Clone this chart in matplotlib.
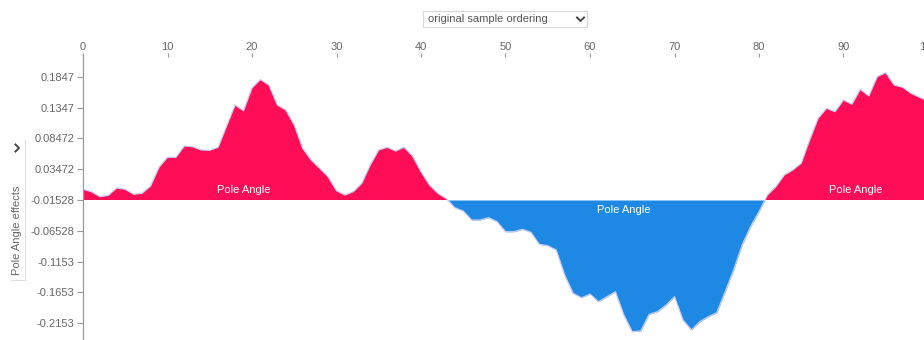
import numpy as np
import matplotlib
matplotlib.use("Agg")
import matplotlib.pyplot as plt
from matplotlib.patches import Rectangle
from matplotlib.lines import Line2D

plt.rcParams['font.family'] = ['Liberation Sans', 'DejaVu Sans']

# --- data -----------------------------------------------------------------
feature_name = "Pole Angle"
base_value = -0.01528
sample_index = list(range(101))
pole_angle_effects = [
    0.0174, 0.0135, 0.0054, 0.0076, 0.0195, 0.0174, 0.0093, 0.0109, 0.0227, 0.0531,
    0.0693, 0.0693, 0.0877, 0.0865, 0.0812, 0.0807, 0.0856, 0.1201, 0.1542, 0.1450,
    0.1818, 0.1956, 0.1867, 0.1542, 0.1461, 0.1218, 0.0839, 0.0649, 0.0515, 0.0378,
    0.0151, 0.0081, 0.0135, 0.0271, 0.0568, 0.0812, 0.0856, 0.0795, 0.0856, 0.0714,
    0.0459, 0.0244, 0.0109, 0.0023, -0.0125, -0.0179, -0.0325, -0.0325, -0.0287, -0.0352,
    -0.0515, -0.0515, -0.0476, -0.0524, -0.0719, -0.0742, -0.0812, -0.1218, -0.1515, -0.1587,
    -0.1526, -0.1651, -0.1570, -0.1489, -0.1867, -0.2138, -0.2127, -0.1856, -0.1813, -0.1705,
    -0.1570, -0.1948, -0.2110, -0.1976, -0.1894, -0.1830, -0.1489, -0.1136, -0.0731, -0.0433,
    -0.0190, 0.0081, 0.0216, 0.0406, 0.0487, 0.0596, 0.0974, 0.1326, 0.1489, 0.1433,
    0.1623, 0.1554, 0.1797, 0.1688, 0.2002, 0.2067, 0.1867, 0.1830, 0.1732, 0.1667,
    0.1607,
]
x_ticks = [0, 10, 20, 30, 40, 50, 60, 70, 80, 90, 100]
y_tick_values = [0.1847, 0.1347, 0.08472, 0.03472, -0.01528, -0.06528, -0.1153, -0.1653, -0.2153]
y_tick_labels = ["0.1847", "0.1347", "0.08472", "0.03472", "-0.01528",
                 "-0.06528", "-0.1153", "-0.1653", "-0.2153"]
# sample positions where each region's label sits
label_positions = [19, 64, 91.5]

RED = "#ff0d57"
BLUE = "#1e88e5"
W, H = 924, 340


def fx(px):
    return px / W


def fy(py):
    return 1 - py / H


fig = plt.figure(figsize=(W / 100, H / 100), dpi=100)
# plot area: left edge at 83px, top at 55px, extends slightly past the right border
ax = fig.add_axes([fx(83), 0, (928 - 83) / W, (H - 55) / H])

x = np.array(sample_index, dtype=float)
eff = np.array(pole_angle_effects)
y = base_value + eff

ax.fill_between(x, base_value, y, where=eff >= 0, interpolate=True,
                color=RED, linewidth=0)
ax.fill_between(x, base_value, y, where=eff <= 0, interpolate=True,
                color=BLUE, linewidth=0)
ax.plot(x, y, color="#c8cdf0", linewidth=0.9, solid_joinstyle="round")

# region labels
for xp in label_positions:
    idx = int(round(xp))
    sign = 1 if eff[idx] >= 0 else -1
    ax.text(xp, base_value + sign * 0.0162, feature_name, color="white",
            fontsize=8, ha="center", va="center")

ax.set_xlim(0, 100)
ax.set_ylim(base_value - 140 / 616, base_value + 145 / 616)

ax.xaxis.tick_top()
ax.set_xticks(x_ticks)
ax.set_xticklabels([str(t) for t in x_ticks])
ax.set_yticks(y_tick_values)
ax.set_yticklabels(y_tick_labels)
ax.tick_params(axis="x", colors="#999999", labelcolor="#666666", labelsize=8,
               length=3, width=0.8, direction="inout", pad=0.5)
ax.tick_params(axis="y", colors="#999999", labelcolor="#666666", labelsize=8,
               length=4, width=0.8, pad=2)
for side in ("top", "right", "bottom"):
    ax.spines[side].set_visible(False)
ax.spines["left"].set_color("#999999")
ax.spines["left"].set_linewidth(0.9)

# ordering selector above the plot
fig.patches.append(Rectangle((fx(423), fy(27)), (587 - 423) / W, 16 / H,
                             transform=fig.transFigure, facecolor="white",
                             edgecolor="#d8d8d8", linewidth=0.8))
fig.text(fx(428), fy(19), "original sample ordering", color="#555555",
         fontsize=8, ha="left", va="center")
fig.lines.append(Line2D([fx(577), fx(580.5), fx(584)], [fy(17.5), fy(21), fy(17.5)],
                        transform=fig.transFigure, color="#444444", linewidth=1.4))

# vertical effect selector on the left
fig.lines.append(Line2D([fx(25), fx(25), fx(11)], [fy(140), fy(280), fy(280)],
                        transform=fig.transFigure, color="#dddddd", linewidth=0.8))
fig.text(fx(17.5), fy(230), "Pole Angle effects", color="#666666", fontsize=8,
         rotation=90, ha="center", va="center")
fig.lines.append(Line2D([fx(15.5), fx(19), fx(15.5)], [fy(144.5), fy(148), fy(151.5)],
                        transform=fig.transFigure, color="#444444", linewidth=1.4))

fig.savefig("out.png", dpi=100)
